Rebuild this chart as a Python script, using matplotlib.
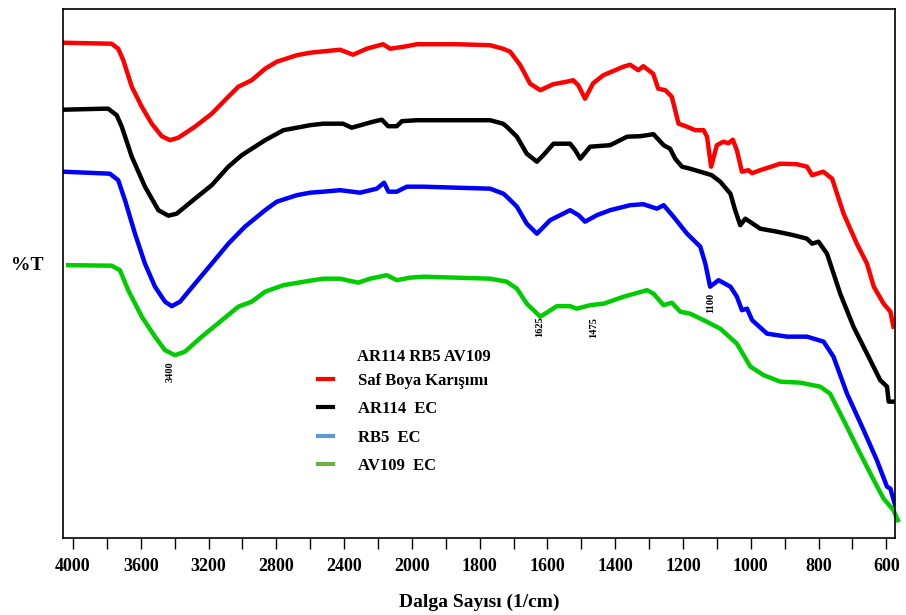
import numpy as np
import matplotlib
matplotlib.use("Agg")
import matplotlib.pyplot as plt
from matplotlib.lines import Line2D

# FTIR spectra, wavenumber (1/cm) and %T (arbitrary, stacked)
w_red = [4059, 3772, 3733, 3703, 3653, 3594, 3535, 3476, 3427, 3378, 3280, 3181, 3083, 3024,
         2945, 2866, 2797, 2679, 2601, 2424, 2347, 2266, 2170, 2128, 2030, 1985, 1867, 1769,
         1731, 1710, 1680, 1651, 1621, 1583, 1543, 1524, 1509, 1489, 1465, 1435, 1376, 1356,
         1332, 1317, 1288, 1273, 1252, 1233, 1213, 1188, 1164, 1139, 1129, 1117, 1100, 1081,
         1066, 1053, 1041, 1026, 1007, 996, 972, 913, 864, 834, 819, 786, 760, 726, 687, 657,
         637, 608, 588, 579]
t_red = [99.1, 98.9, 97.9, 95.6, 90.3, 86.3, 82.9, 80.4, 79.6, 80.1, 82.3, 84.9, 88.3, 90.3,
         91.6, 93.9, 95.3, 96.6, 97.1, 97.7, 96.7, 97.9, 98.8, 97.9, 98.4, 98.8, 98.8, 98.6,
         97.9, 97.3, 94.6, 90.9, 89.6, 90.8, 91.3, 91.6, 90.6, 87.9, 91.0, 92.6, 94.3, 94.7,
         93.6, 94.4, 92.9, 89.9, 89.6, 88.3, 82.9, 82.3, 81.6, 81.6, 80.3, 74.3, 78.6, 79.3,
         79.0, 79.7, 77.6, 73.3, 73.6, 73.0, 73.6, 74.9, 74.8, 74.3, 72.6, 73.3, 71.9, 64.9,
         58.9, 54.9, 50.3, 46.9, 45.3, 42.3]

w_black = [4059, 3821, 3792, 3742, 3712, 3653, 3575, 3496, 3437, 3388, 3280, 3181, 3083, 3004,
           2866, 2758, 2601, 2524, 2406, 2355, 2229, 2177, 2140, 2089, 2059, 1985, 1769, 1731,
           1720, 1690, 1661, 1631, 1612, 1582, 1533, 1518, 1503, 1474, 1415, 1365, 1326, 1287,
           1257, 1238, 1223, 1203, 1179, 1149, 1115, 1090, 1060, 1046, 1031, 1016, 972, 923,
           874, 834, 819, 800, 775, 736, 697, 657, 618, 598, 593, 579]
t_black = [85.7, 85.9, 85.9, 84.6, 82.3, 76.3, 70.3, 65.6, 64.5, 64.9, 67.9, 70.6, 74.3, 76.6,
           79.6, 81.6, 82.6, 82.9, 82.9, 82.1, 83.3, 83.7, 82.4, 82.4, 83.4, 83.6, 83.6, 82.9,
           82.3, 80.3, 76.9, 75.3, 76.6, 78.9, 78.9, 77.6, 75.9, 78.3, 78.6, 80.3, 80.4, 80.8,
           78.6, 77.9, 75.9, 74.3, 73.9, 73.3, 72.6, 71.3, 68.9, 65.6, 62.6, 63.9, 61.9, 61.3,
           60.6, 59.9, 58.9, 59.3, 56.9, 48.9, 42.3, 36.9, 31.6, 30.3, 27.3, 27.3]

w_blue = [4059, 3782, 3733, 3693, 3634, 3575, 3516, 3457, 3417, 3368, 3280, 3181, 3083, 2985,
          2866, 2797, 2679, 2601, 2522, 2424, 2306, 2207, 2164, 2138, 2089, 2030, 1966, 1769,
          1730, 1720, 1690, 1661, 1631, 1592, 1533, 1508, 1489, 1454, 1415, 1356, 1317, 1277,
          1257, 1228, 1188, 1149, 1134, 1120, 1095, 1060, 1041, 1026, 1011, 996, 952, 893, 834,
          785, 756, 716, 667, 628, 598, 588, 574]
t_blue = [73.3, 72.9, 71.6, 67.6, 60.9, 54.9, 50.3, 47.3, 46.4, 47.3, 50.9, 54.9, 58.9, 62.3,
          65.6, 67.3, 68.6, 69.1, 69.3, 69.6, 69.1, 69.9, 71.1, 69.3, 69.3, 70.3, 70.3, 69.9,
          68.9, 68.3, 66.3, 62.9, 60.9, 63.6, 65.6, 64.6, 63.3, 64.6, 65.6, 66.6, 66.8, 65.9,
          66.6, 64.3, 60.9, 58.3, 54.9, 50.3, 51.6, 50.3, 48.3, 45.6, 45.9, 43.6, 40.9, 40.3,
          40.3, 39.3, 36.3, 28.9, 21.6, 15.6, 10.3, 9.9, 6.6]

w_green = [4028, 3772, 3723, 3674, 3594, 3516, 3457, 3398, 3339, 3240, 3142, 3024, 2945, 2866,
           2758, 2601, 2522, 2424, 2316, 2247, 2148, 2089, 2011, 1966, 1769, 1720, 1690, 1661,
           1621, 1572, 1533, 1514, 1474, 1434, 1375, 1306, 1287, 1257, 1233, 1208, 1179, 1139,
           1090, 1041, 1001, 962, 913, 854, 795, 766, 726, 677, 637, 608, 579, 566]
t_green = [54.6, 54.5, 53.6, 49.6, 44.3, 40.3, 37.6, 36.6, 37.3, 40.3, 43.0, 46.3, 47.3, 49.3,
           50.6, 51.5, 51.9, 51.9, 51.1, 51.9, 52.6, 51.6, 52.1, 52.3, 51.9, 51.3, 49.9, 46.9,
           44.3, 46.4, 46.4, 45.9, 46.6, 46.9, 48.3, 49.6, 48.9, 46.6, 47.1, 45.3, 44.9, 43.6,
           41.9, 38.9, 34.3, 32.6, 31.3, 31.1, 30.3, 28.9, 23.6, 16.9, 11.6, 7.9, 5.6, 3.6]

legend_title = "AR114 RB5 AV109"
legend_labels = ["Saf Boya Karışımı", "AR114  EC", "RB5  EC", "AV109  EC"]
legend_colors = ["#ff0000", "#000000", "#5b9bd5", "#70ad47"]

peak_labels = ["3400", "1625", "1475", "1100"]
peak_pos = [3425, 1622, 1463, 1117]
peak_y = [33.2, 42.2, 42.2, 47.0]

tick_pos = list(range(4000, 2000, -200)) + list(range(2000, 599, -100))
tick_text = ["4000", "3600", "3200", "2800", "2400", "2000", "1800", "1600",
             "1400", "1200", "1000", "800", "600"]


def fwd(w):
    w = np.asarray(w, dtype=float)
    return np.where(w <= 2000, w / 200.0, 10 + (w - 2000) / 400.0)


def inv(u):
    u = np.asarray(u, dtype=float)
    return np.where(u <= 10, u * 200.0, 2000 + (u - 10) * 400.0)


serif = "Liberation Serif"

fig = plt.figure(figsize=(9.06, 6.15), dpi=100)
ax = fig.add_axes([0.0695, 0.125, 0.9185, 0.86])
ax.set_xscale("function", functions=(fwd, inv))

lw = 3.2
ax.plot(w_red, t_red, color="#ff0000", lw=lw, solid_joinstyle="round")
ax.plot(w_black, t_black, color="#000000", lw=lw, solid_joinstyle="round")
ax.plot(w_blue, t_blue, color="#0000ff", lw=lw, solid_joinstyle="round")
ax.plot(w_green, t_green, color="#00cc00", lw=lw, solid_joinstyle="round", clip_on=False)

for lab, x, y in zip(peak_labels, peak_pos, peak_y):
    ax.text(x, y, lab, rotation=90, ha="center", va="center", fontsize=7.5,
            fontweight="bold", family=serif)

ax.set_xlim(4059, 574)
ax.set_ylim(0, 105.8)

labels = []
for p in tick_pos:
    s = str(p)
    labels.append(s if s in tick_text else "")
ax.set_xticks(tick_pos)
ax.set_xticklabels(labels)
ax.tick_params(axis="x", direction="out", length=8, width=1, pad=6, labelsize=13)
for t in ax.get_xticklabels():
    t.set_fontfamily(serif)
    t.set_fontweight("bold")
ax.set_yticks([])

for sp in ax.spines.values():
    sp.set_linewidth(1.2)

ax.set_xlabel("Dalga Sayısı (1/cm)", fontsize=14, fontweight="bold", family=serif, labelpad=14)
fig.text(0.012, 0.569, "%T", fontsize=14, fontweight="bold", family=serif, va="center")

handles = [Line2D([], [], color=c, lw=3) for c in legend_colors]
ax.legend(handles, legend_labels, loc="upper left", bbox_to_anchor=(0.289, 0.341),
          frameon=False, handlelength=0.9, handletextpad=1.5, labelspacing=0.75,
          borderpad=0.4, prop={"family": serif, "weight": "bold", "size": 12})
ax.text(0.353, 0.342, legend_title, transform=ax.transAxes, ha="left", va="center",
        family=serif, fontweight="bold", fontsize=12)

fig.savefig("out.png", dpi=100)
